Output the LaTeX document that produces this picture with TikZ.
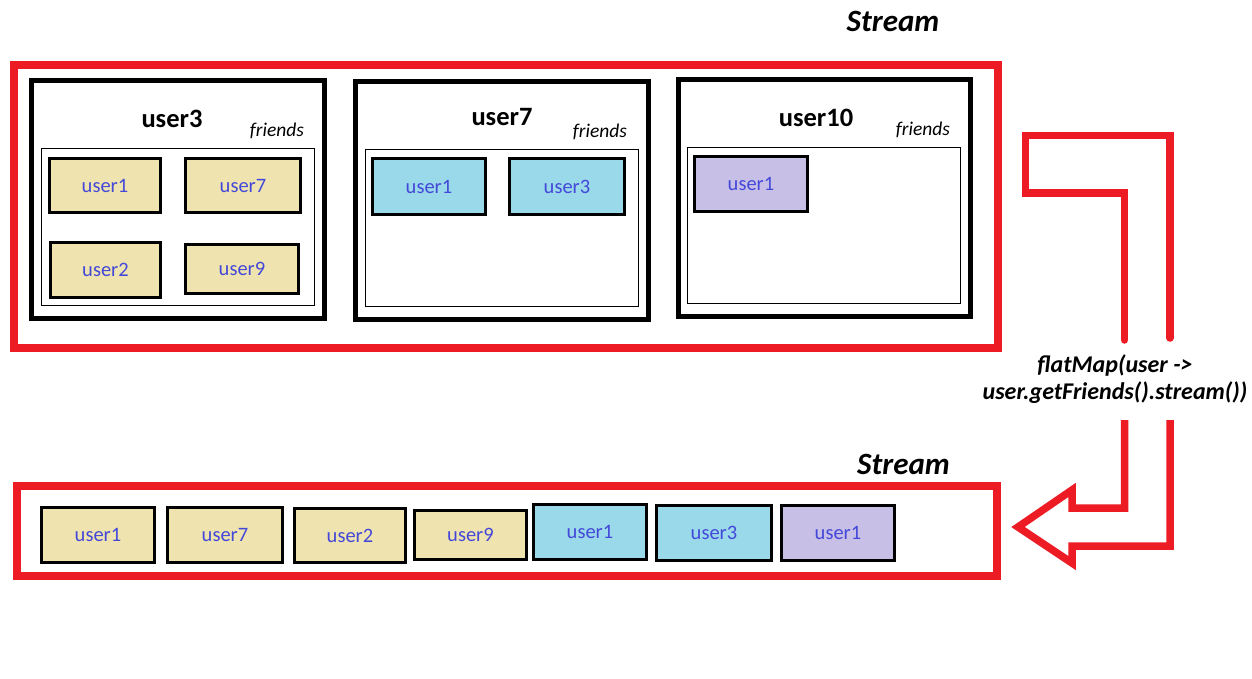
\documentclass[tikz,border=0pt]{standalone}
\usepackage{fontspec}
\setmainfont{Carlito}
\definecolor{pred}{HTML}{ED1C24}
\definecolor{ptan}{HTML}{EFE4B0}
\definecolor{pcyan}{HTML}{99D9EA}
\definecolor{ppurple}{HTML}{C8BFE7}
\definecolor{ublue}{HTML}{4448D8}
\begin{document}
\begin{tikzpicture}[x=1pt,y=-1pt,
  redbox/.style={draw=pred,line width=8pt,inner sep=0pt,outer sep=0pt,anchor=north west},
  userbox/.style={draw=black,line width=5pt,inner sep=0pt,outer sep=0pt,anchor=north west},
  friendsbox/.style={draw=black,line width=1pt,inner sep=0pt,outer sep=0pt,anchor=north west},
  itembox/.style={draw=black,line width=3.3pt,inner sep=0pt,text=ublue,
    font=\fontsize{20.5}{23}\selectfont},
  tanbox/.style={itembox,fill=ptan},
  cyanbox/.style={itembox,fill=pcyan},
  purplebox/.style={itembox,fill=ppurple},
  title/.style={font=\bfseries\fontsize{26.5}{30}\selectfont,inner sep=0pt},
  frlabel/.style={font=\itshape\fontsize{19.5}{22}\selectfont,inner sep=0pt},
  streamlabel/.style={font=\bfseries\itshape\fontsize{31}{36}\selectfont,inner sep=0pt},
  arrowline/.style={draw=pred,line width=7.5pt}
]
\useasboundingbox (0,0) rectangle (1252,679);

% ---- top stream ----
\node[streamlabel] (st1) at (893,21) {Stream};
\node[redbox,minimum width=983.5,minimum height=282.5] (stream1) at (14,65) {};

% user3
\node[userbox,minimum width=293,minimum height=238] (u3) at (31.5,80.5) {};
\node[title] (u3t) at (172,119) {user3};
\node[frlabel] (u3f) at (277,131) {friends};
\node[friendsbox,minimum width=273,minimum height=157] (u3fb) at (41.5,148.5) {};
\node[tanbox,minimum width=111,minimum height=54] (a1) at (105,185.5) {user1};
\node[tanbox,minimum width=115,minimum height=54] (a2) at (243,185.5) {user7};
\node[tanbox,minimum width=110,minimum height=55] (a3) at (105.5,270) {user2};
\node[tanbox,minimum width=113,minimum height=49] (a4) at (242,269) {user9};

% user7
\node[userbox,minimum width=293,minimum height=238] (u7) at (355.5,81.5) {};
\node[title] (u7t) at (502,117) {user7};
\node[frlabel] (u7f) at (600,132) {friends};
\node[friendsbox,minimum width=273,minimum height=157] (u7fb) at (365.5,149.5) {};
\node[cyanbox,minimum width=113,minimum height=56] (b1) at (429,186.5) {user1};
\node[cyanbox,minimum width=115,minimum height=56] (b2) at (567,186.5) {user3};

% user10
\node[userbox,minimum width=292,minimum height=237] (u10) at (678,79.5) {};
\node[title] (u10t) at (816,118) {user10};
\node[frlabel] (u10f) at (923,130) {friends};
\node[friendsbox,minimum width=273,minimum height=156] (u10fb) at (687.5,147.5) {};
\node[purplebox,minimum width=113,minimum height=55] (c1) at (751,184) {user1};

% ---- bottom stream ----
\node[streamlabel] (st2) at (903.5,464) {Stream};
\node[redbox,minimum width=980,minimum height=89.5] (stream2) at (17,486) {};
\node[tanbox,minimum width=113,minimum height=55] (d1) at (98,535) {user1};
\node[tanbox,minimum width=115,minimum height=55] (d2) at (225,535) {user7};
\node[tanbox,minimum width=111,minimum height=54] (d3) at (350,535.5) {user2};
\node[tanbox,minimum width=112,minimum height=49] (d4) at (470.5,535) {user9};
\node[cyanbox,minimum width=113,minimum height=55] (d5) at (590,532) {user1};
\node[cyanbox,minimum width=115,minimum height=55] (d6) at (714,533) {user3};
\node[purplebox,minimum width=113,minimum height=55] (d7) at (838,533) {user1};

% ---- flatMap arrow ----
\node[font=\bfseries\itshape\fontsize{24}{27.5}\selectfont,align=center,inner sep=0pt]
  (fm) at (1115,379) {flatMap(user ->\\user.getFriends().stream())};
\draw[arrowline,line cap=round,line join=miter]
  (1124.5,340) -- (1124.5,193) -- (1025.5,193) -- (1025.5,135.5) -- (1170,135.5) -- (1170,338);
\draw[arrowline,line join=miter]
  (1124.5,420) -- (1124.5,508) -- (1072,508) -- (1072,490) -- (1018,527)
  -- (1072,563) -- (1072,546) -- (1170,546) -- (1170,420);
\end{tikzpicture}
\end{document}
